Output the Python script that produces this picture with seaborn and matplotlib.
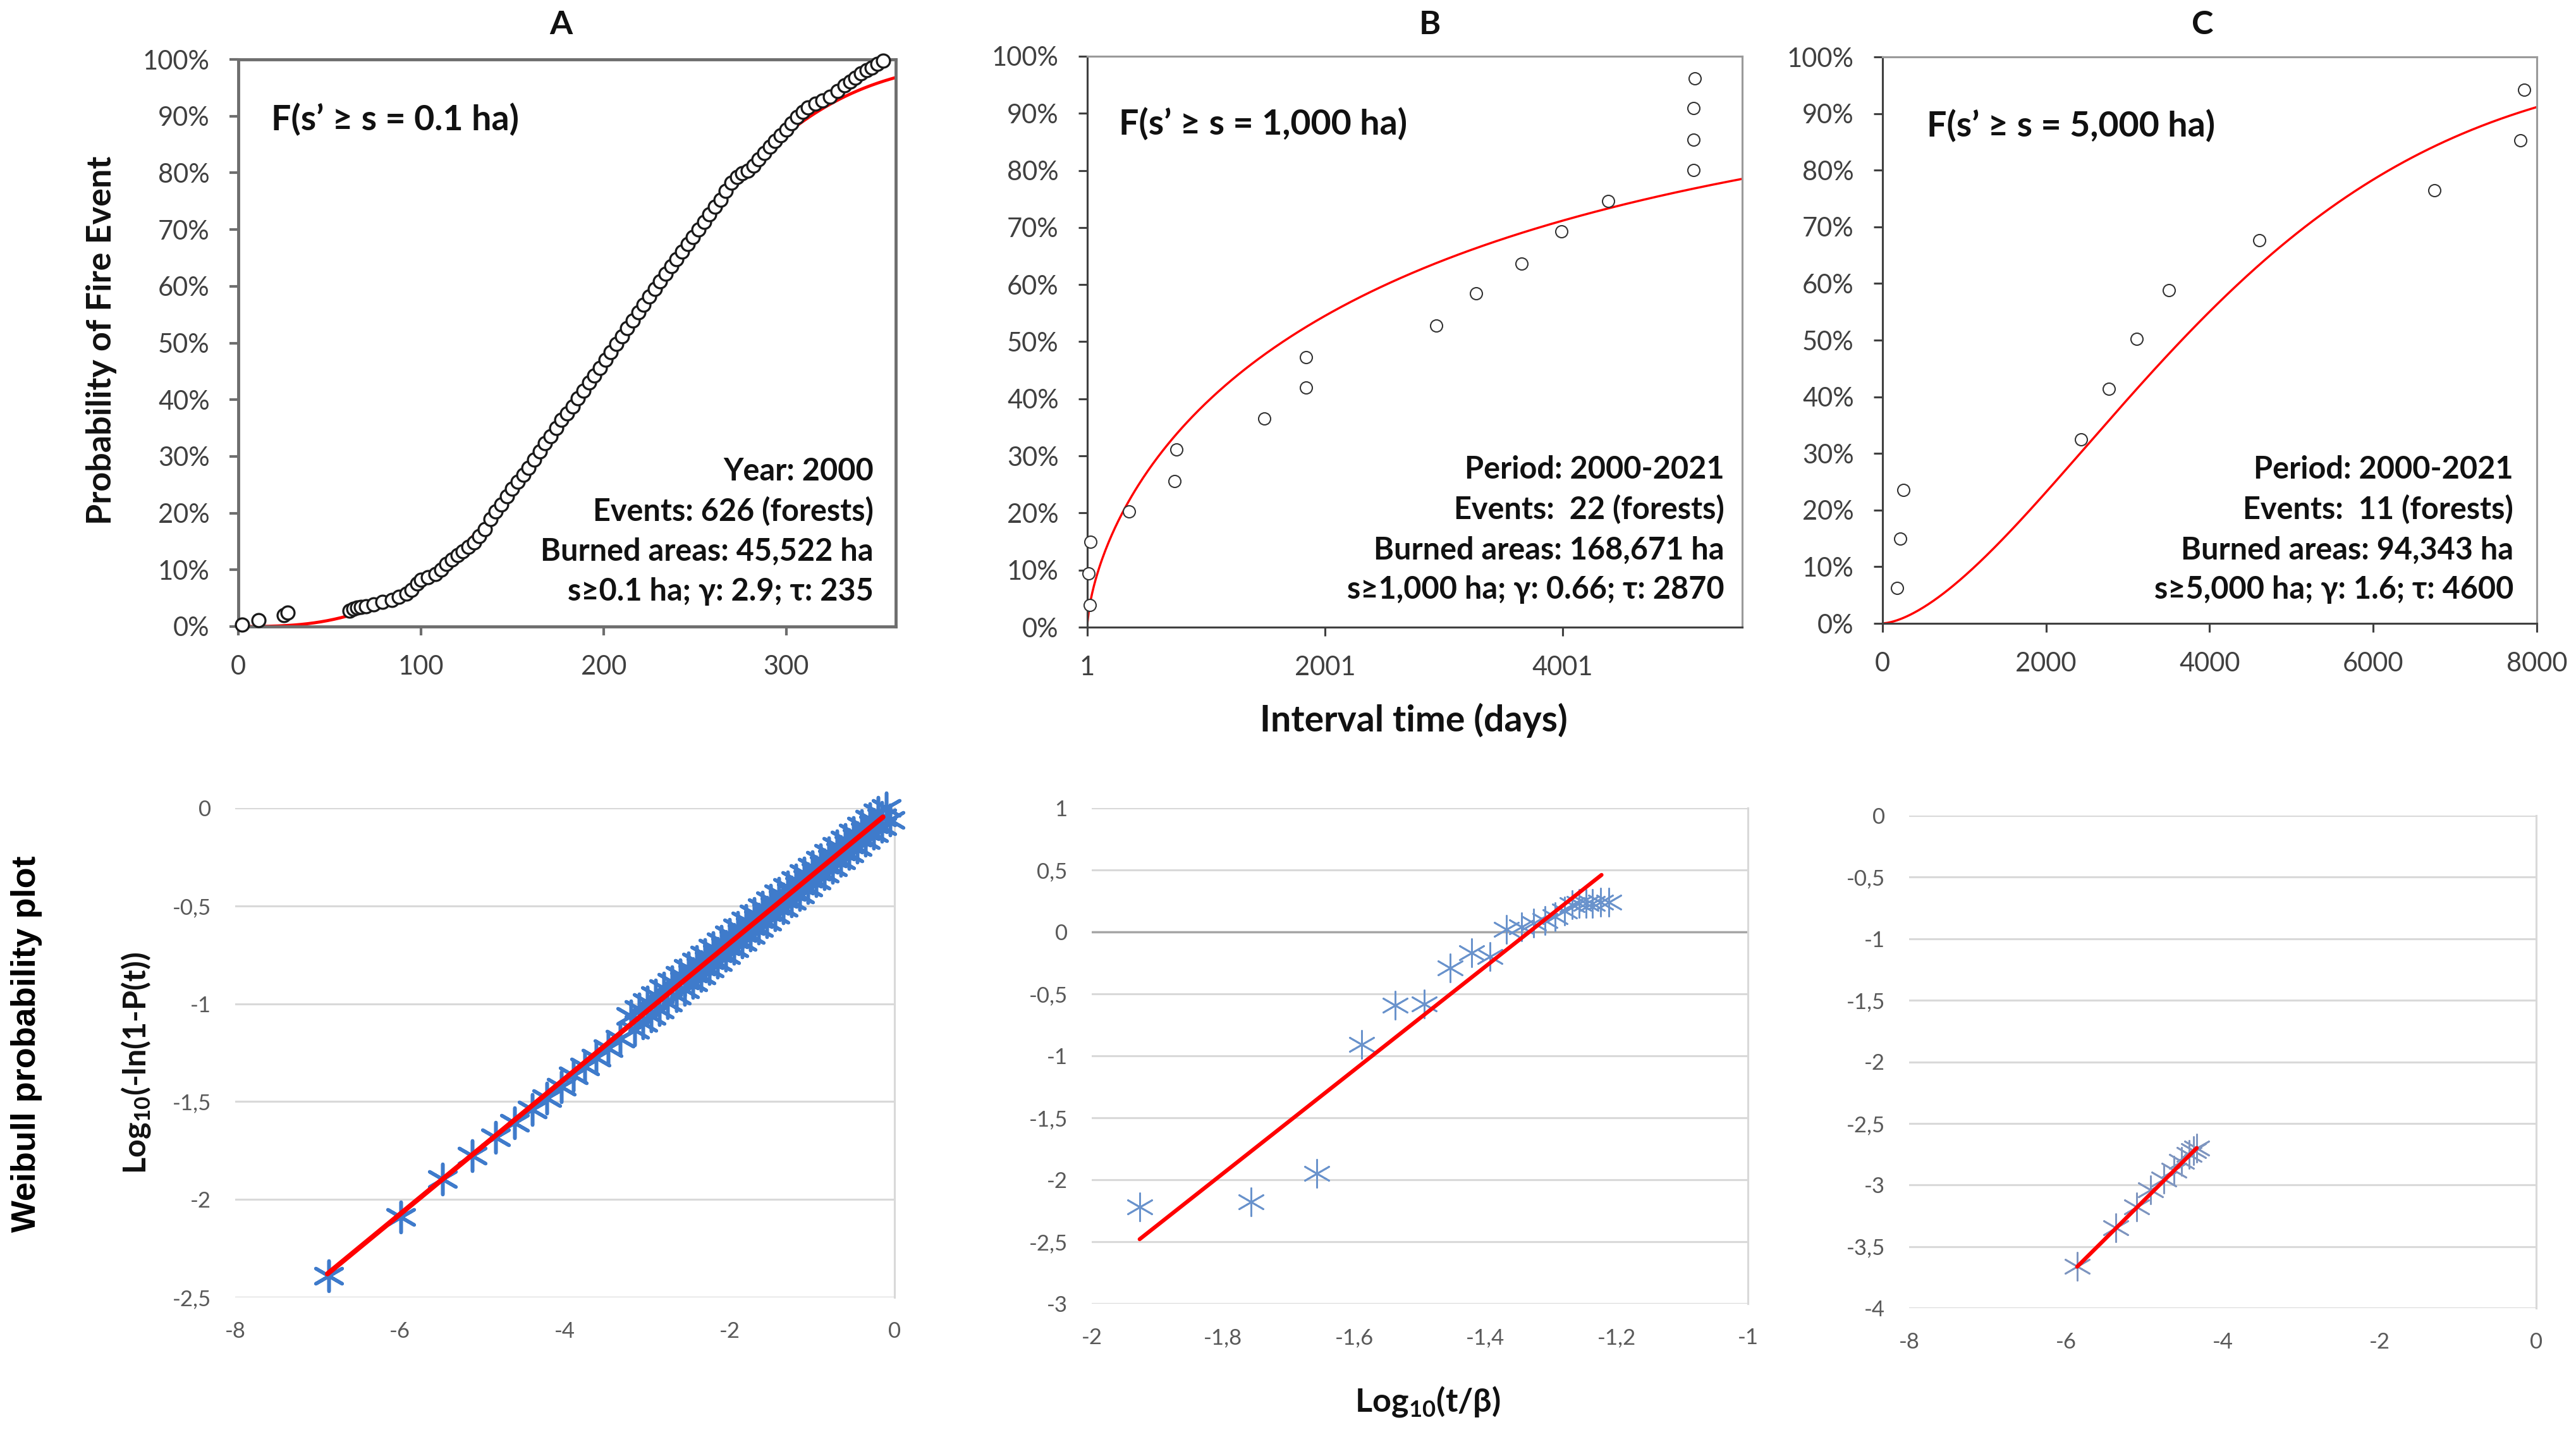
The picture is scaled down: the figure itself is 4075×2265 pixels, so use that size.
import numpy as np
import pandas as pd
import matplotlib
matplotlib.use('Agg')
import matplotlib.pyplot as plt
import seaborn as sns
from matplotlib.ticker import PercentFormatter

W, H = 4076, 2265
DPI = 250

# ---- top row: cumulative probability of fire event vs interval time ----
a_days = [2, 11, 25, 27, 61, 63, 65, 67, 70, 74, 79, 84, 88, 92, 95, 98, 100, 104, 108,
          111, 114, 117, 120, 123, 126, 129, 132, 135, 138, 141, 144, 147, 150, 153, 156,
          159, 162, 165, 168, 171, 174, 177, 180, 183, 186, 189, 192, 195, 198, 201, 204,
          207, 210, 213, 216, 219, 222, 225, 228, 231, 234, 237, 240, 243, 246, 249, 252,
          255, 258, 261, 264, 267, 270, 273, 276, 279, 282, 285, 288, 291, 294, 297, 300,
          303, 306, 309, 312, 316, 320, 324, 328, 332, 335, 338, 341, 344, 347, 350, 353]
a_prob = [0.3, 1.1, 2.0, 2.4, 2.8, 3.1, 3.3, 3.5, 3.6, 3.9, 4.3, 4.7, 5.2, 5.8, 6.5, 7.6, 8.3,
          8.7, 9.3, 10.0, 11.0, 11.8, 12.6, 13.3, 14.0, 14.8, 15.9, 17.2, 19.0, 20.3, 21.5,
          23.0, 24.3, 25.5, 26.8, 28.0, 29.4, 30.9, 32.3, 33.6, 35.0, 36.4, 37.6, 38.8, 40.2,
          41.6, 43.0, 44.3, 45.6, 47.0, 48.4, 49.8, 51.2, 52.6, 54.0, 55.4, 56.8, 58.2, 59.5,
          60.9, 62.2, 63.5, 64.8, 66.1, 67.4, 68.7, 70.0, 71.4, 72.7, 74.0, 75.3, 76.8, 78.3,
          79.3, 79.9, 80.4, 81.3, 82.4, 83.5, 84.6, 85.6, 86.6, 87.6, 88.7, 89.8, 90.7, 91.5,
          92.2, 92.8, 93.4, 94.4, 95.4, 96.1, 96.8, 97.5, 98.1, 98.6, 99.2, 99.8]
a_gamma, a_tau = 2.9, 235

b_days = [20, 10, 30, 352, 737, 752, 1488, 1839, 1839, 2937, 3274, 3654, 3991, 4385,
          5103, 5103, 5103, 5113]
b_prob = [3.9, 9.4, 14.9, 20.3, 25.6, 31.1, 36.5, 42.0, 47.3, 52.8, 58.5, 63.7, 69.3, 74.6,
          80.1, 85.4, 90.9, 96.1]
b_gamma, b_tau = 0.66, 2870

c_days = [177, 216, 255, 2426, 2767, 3107, 3499, 4604, 6749, 7796, 7848]
c_prob = [6.3, 14.9, 23.6, 32.5, 41.4, 50.2, 58.8, 67.6, 76.4, 85.3, 94.2]
c_gamma, c_tau = 1.6, 4600

titles = ['A', 'B', 'C']
thresholds = ['F(s’ ≥ s = 0.1 ha)', 'F(s’ ≥ s = 1,000 ha)', 'F(s’ ≥ s = 5,000 ha)']
a_info = ['Year: 2000', 'Events: 626 (forests)', 'Burned areas: 45,522 ha',
          's≥0.1 ha; γ: 2.9; τ: 235']
b_info = ['Period: 2000-2021', 'Events:  22 (forests)', 'Burned areas: 168,671 ha',
          's≥1,000 ha; γ: 0.66; τ: 2870']
c_info = ['Period: 2000-2021', 'Events:  11 (forests)', 'Burned areas: 94,343 ha',
          's≥5,000 ha; γ: 1.6; τ: 4600']

pct_ticks = [0, 10, 20, 30, 40, 50, 60, 70, 80, 90, 100]
a_xticks = [0, 100, 200, 300]
b_xticks = [1, 2001, 4001]
c_xticks = [0, 2000, 4000, 6000, 8000]

# ---- bottom row: Weibull probability plots ----
# isolated low points, then the dense band (upper, lower and middle rows)
d_x = [-6.865, -5.993, -5.482, -5.12, -4.837, -4.61, -4.397, -4.22, -4.04, -3.9, -3.76,
       -3.62, -3.475, -3.33,
       -3.2, -3.1, -3.0, -2.9, -2.8, -2.7, -2.6, -2.5, -2.4, -2.3, -2.2, -2.1, -2.0, -1.9,
       -1.8, -1.7, -1.6, -1.5, -1.4, -1.3, -1.2, -1.1, -1.0, -0.9, -0.8, -0.7, -0.6, -0.5,
       -0.4, -0.3, -0.2, -0.1,
       -3.15, -3.05, -2.95, -2.85, -2.75, -2.65, -2.55, -2.45, -2.35, -2.25, -2.15, -2.05,
       -1.95, -1.85, -1.75, -1.65, -1.55, -1.45, -1.35, -1.25, -1.15, -1.05, -0.95, -0.85,
       -0.75, -0.65, -0.55, -0.45, -0.35, -0.25, -0.15, -0.05,
       -2.55, -2.45, -2.35, -2.25, -2.15, -2.05, -1.95, -1.85, -1.75, -1.65, -1.55, -1.45,
       -1.35, -1.25, -1.15, -1.05, -0.95, -0.85, -0.75, -0.65, -0.55, -0.45, -0.35, -0.25,
       -0.15]
d_y = [-2.39, -2.09, -1.896, -1.776, -1.682, -1.608, -1.54, -1.482, -1.425, -1.367, -1.321,
       -1.275, -1.229, -1.18,
       -1.062, -1.026, -0.991, -0.956, -0.922, -0.887, -0.853, -0.818, -0.784, -0.749,
       -0.714, -0.680, -0.645, -0.611, -0.576, -0.541, -0.507, -0.472, -0.437, -0.403,
       -0.368, -0.333, -0.299, -0.264, -0.230, -0.195, -0.160, -0.126, -0.091, -0.056,
       -0.022, 0.0,
       -1.135, -1.099, -1.064, -1.029, -0.995, -0.960, -0.926, -0.891, -0.857, -0.822,
       -0.787, -0.753, -0.718, -0.684, -0.649, -0.614, -0.580, -0.545, -0.510, -0.476,
       -0.441, -0.406, -0.372, -0.337, -0.303, -0.268, -0.233, -0.199, -0.164, -0.129,
       -0.095, -0.060,
       -0.881, -0.846, -0.811, -0.777, -0.742, -0.707, -0.673, -0.638, -0.604, -0.569,
       -0.534, -0.500, -0.465, -0.430, -0.396, -0.361, -0.326, -0.292, -0.257, -0.223,
       -0.188, -0.153, -0.119, -0.084, -0.049]
d_fit_x = [-6.88, -0.14]
d_fit_y = [-2.38, -0.046]

e_x = [-1.927, -1.757, -1.657, -1.589, -1.538, -1.493, -1.454, -1.421, -1.393, -1.368,
       -1.345, -1.327, -1.309, -1.294, -1.279, -1.268, -1.257, -1.247, -1.237, -1.224, -1.212]
e_y = [-2.22, -2.18, -1.95, -0.91, -0.59, -0.58, -0.29, -0.17, -0.20, 0.02, 0.04, 0.07,
       0.09, 0.12, 0.17, 0.22, 0.23, 0.23, 0.23, 0.24, 0.24]
e_fit_x = [-1.927, -1.223]
e_fit_y = [-2.48, 0.46]

f_x = [-5.856, -5.364, -5.10, -4.918, -4.754, -4.623, -4.525, -4.43, -4.37, -4.33]
f_y = [-3.66, -3.35, -3.18, -3.04, -2.95, -2.88, -2.81, -2.75, -2.72, -2.70]
f_fit_x = [-5.856, -4.33]
f_fit_y = [-3.664, -2.70]

d_yticks = [0, -0.5, -1, -1.5, -2, -2.5]
d_ylabels = ['0', '-0,5', '-1', '-1,5', '-2', '-2,5']
e_yticks = [1, 0.5, 0, -0.5, -1, -1.5, -2, -2.5, -3]
e_ylabels = ['1', '0,5', '0', '-0,5', '-1', '-1,5', '-2', '-2,5', '-3']
f_yticks = [0, -0.5, -1, -1.5, -2, -2.5, -3, -3.5, -4]
f_ylabels = ['0', '-0,5', '-1', '-1,5', '-2', '-2,5', '-3', '-3,5', '-4']
df_xticks = [-8, -6, -4, -2, 0]
df_xlabels = ['-8', '-6', '-4', '-2', '0']
e_xticks = [-2, -1.8, -1.6, -1.4, -1.2, -1]
e_xlabels = ['-2', '-1,8', '-1,6', '-1,4', '-1,2', '-1']

sns.set_theme(style='white')
plt.rcParams['font.family'] = ['Lato', 'DejaVu Sans']
plt.rcParams['mathtext.fontset'] = 'custom'
plt.rcParams['mathtext.rm'] = 'Lato'
plt.rcParams['mathtext.bf'] = 'Lato:bold'
plt.rcParams['mathtext.default'] = 'bf'

fig = plt.figure(figsize=(W / DPI, H / DPI), dpi=DPI)


def rect(l, t, r, b):
    return [l / W, 1 - b / H, (r - l) / W, (b - t) / H]


def ftext(x, y, s, **kw):
    fig.text(x / W, 1 - y / H, s, **kw)


def weibull_cdf(t, gamma, tau):
    return 100 * (1 - np.exp(-(t / tau) ** gamma))


# top row
top = [
    dict(box=(377, 94, 1417, 991), days=a_days, prob=a_prob, g=a_gamma, tau=a_tau,
         xlim=(0, 360), xticks=a_xticks, info=a_info, info_x=1382,
         info_y=[746, 809, 872, 935], fx=429, fy=189, tx=887, spine='a'),
    dict(box=(1720, 89, 2756, 992), days=b_days, prob=b_prob, g=b_gamma, tau=b_tau,
         xlim=(1, 5511), xticks=b_xticks, info=b_info, info_x=2728,
         info_y=[743, 806, 870, 933], fx=1770, fy=196, tx=2262, spine='b'),
    dict(box=(2978, 90, 4013, 986), days=c_days, prob=c_prob, g=c_gamma, tau=c_tau,
         xlim=(0, 8000), xticks=c_xticks, info=c_info, info_x=3976,
         info_y=[743, 806, 870, 933], fx=3048, fy=199, tx=3484, spine='b'),
]

for i, p in enumerate(top):
    ax = fig.add_axes(rect(*p['box']))
    t = np.linspace(p['xlim'][0], p['xlim'][1], 400)
    curve = pd.DataFrame({'t': t, 'F': weibull_cdf(t, p['g'], p['tau'])})
    lw_fit = 1.4 if p['spine'] == 'a' else 1.0
    sns.lineplot(data=curve, x='t', y='F', color='#ff0000', lw=lw_fit, ax=ax, zorder=2)
    pts = pd.DataFrame({'t': p['days'], 'P': p['prob']})
    ms = 36 if p['spine'] == 'a' else 30
    ew = 0.95 if p['spine'] == 'a' else 0.6
    sns.scatterplot(data=pts, x='t', y='P', marker='o', s=ms, facecolor='white',
                    edgecolor='#1a1a1a' if p['spine'] == 'a' else '#333333',
                    linewidth=ew, ax=ax, zorder=3, clip_on=False)
    ax.set_xlim(*p['xlim'])
    ax.set_ylim(0, 100)
    ax.set_xticks(p['xticks'])
    ax.set_yticks(pct_ticks)
    ax.yaxis.set_major_formatter(PercentFormatter(xmax=100, decimals=0))
    ax.set_xlabel('')
    ax.set_ylabel('')
    if p['spine'] == 'a':
        for s in ax.spines.values():
            s.set_color('#6e6e6e')
            s.set_linewidth(1.4)
        tcol, tw = '#6e6e6e', 1.2
    else:
        for name, s in ax.spines.items():
            s.set_linewidth(0.9)
            s.set_color('#404040' if name in ('left', 'bottom') else '#9a9a9a')
        tcol, tw = '#404040', 0.9
    ax.tick_params(axis='both', direction='out', length=4, width=tw, color=tcol,
                   labelsize=12, labelcolor='#404040', pad=9,
                   bottom=True, left=True)
    ftext(p['fx'], p['fy'], thresholds[i], fontsize=16, fontweight='bold',
          ha='left', va='center', color='#111111')
    for yy, line in zip(p['info_y'], p['info']):
        ftext(p['info_x'], yy, line, fontsize=14, fontweight='bold', ha='right',
              va='center', color='#111111')
    ftext(p['tx'], 39, titles[i], fontsize=15, fontweight='bold', ha='center',
          va='center', color='#111111')

ftext(161, 538, 'Probability of Fire Event', rotation=90, fontsize=15.5,
      fontweight='bold', ha='center', va='center', color='#111111')
ftext(2236, 1139, 'Interval time (days)', fontsize=16.5, fontweight='bold',
      ha='center', va='center', color='#111111')

# bottom row
bottom = [
    dict(box=(372, 1278, 1415, 2052), x=d_x, y=d_y, fx=d_fit_x, fy=d_fit_y,
         xlim=(-8, 0), ylim=(-2.5, 0), yt=d_yticks, yl=d_ylabels, xt=df_xticks,
         xl=df_xlabels, mc='#3f7bcb', mlw=1.6, ms=190, flw=2.3, zero=None),
    dict(box=(1727, 1278, 2765, 2062), x=e_x, y=e_y, fx=e_fit_x, fy=e_fit_y,
         xlim=(-2, -1), ylim=(-3, 1), yt=e_yticks, yl=e_ylabels, xt=e_xticks,
         xl=e_xlabels, mc='#6a93cc', mlw=0.8, ms=160, flw=1.8, zero=0),
    dict(box=(3020, 1290, 4012, 2069), x=f_x, y=f_y, fx=f_fit_x, fy=f_fit_y,
         xlim=(-8, 0), ylim=(-4, 0), yt=f_yticks, yl=f_ylabels, xt=df_xticks,
         xl=df_xlabels, mc='#7f96c0', mlw=0.8, ms=160, flw=1.8, zero=None),
]

for p in bottom:
    ax = fig.add_axes(rect(*p['box']))
    ax.set_xlim(*p['xlim'])
    ax.set_ylim(*p['ylim'])
    ax.set_yticks(p['yt'])
    ax.set_yticklabels(p['yl'])
    ax.set_xticks(p['xt'])
    ax.set_xticklabels(p['xl'])
    ax.grid(axis='y', color='#d9d9d9', lw=0.9)
    ax.grid(axis='x', visible=False)
    for name, s in ax.spines.items():
        s.set_visible(name == 'right')
    ax.spines['right'].set_color('#d9d9d9')
    ax.spines['right'].set_linewidth(0.9)
    if p['zero'] is not None:
        ax.axhline(p['zero'], color='#a6a6a6', lw=1.0, zorder=1)
    pts = pd.DataFrame({'x': p['x'], 'y': p['y']})
    sns.scatterplot(data=pts, x='x', y='y', marker=(6, 2, 0), s=p['ms'],
                    color=p['mc'], linewidth=p['mlw'], ax=ax, zorder=3, clip_on=False)
    fit = pd.DataFrame({'x': p['fx'], 'y': p['fy']})
    sns.lineplot(data=fit, x='x', y='y', color='#ff0000', lw=p['flw'], ax=ax, zorder=4)
    ax.set_xlabel('')
    ax.set_ylabel('')
    ax.tick_params(axis='both', length=0, labelsize=10, labelcolor='#595959', pad=11)
    ax.set_axisbelow(True)

ftext(42, 1651, 'Weibull probability plot', rotation=90, fontsize=15.5,
      fontweight='bold', family=['Liberation Sans', 'DejaVu Sans'],
      ha='center', va='center', color='#000000')
ftext(215, 1681, 'Log$_{10}$(-ln(1-P(t))', rotation=90, fontsize=14.5,
      fontweight='bold', ha='center', va='center', color='#111111')
ftext(2258, 2217, 'Log$_{10}$(t/β)', fontsize=15, fontweight='bold',
      ha='center', va='center', color='#111111')

fig.savefig('out.png', dpi=DPI, facecolor='white')
